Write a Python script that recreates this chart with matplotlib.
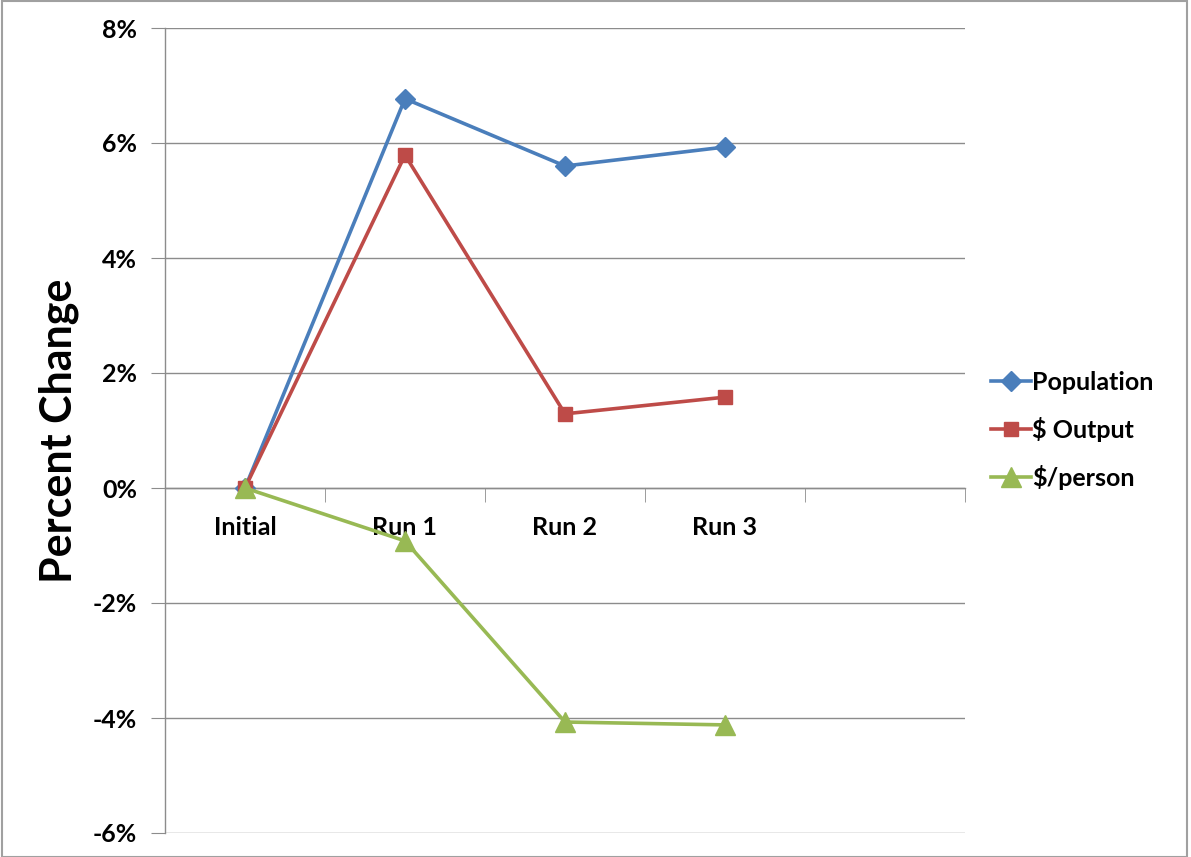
import matplotlib
matplotlib.use("Agg")
from matplotlib import pyplot as plt
from matplotlib.patches import Rectangle
from matplotlib.ticker import FixedLocator, PercentFormatter

plt.rcParams["font.family"] = ["Lato", "DejaVu Sans"]
plt.rcParams["font.weight"] = "bold"
plt.rcParams["axes.unicode_minus"] = False

# Percent change relative to the initial run
categories = ["Initial", "Run 1", "Run 2", "Run 3"]
population = [0.0, 6.77, 5.60, 5.93]
output = [0.0, 5.79, 1.29, 1.58]
per_person = [0.0, -0.92, -4.07, -4.12]

series = [
    ("Population", population, "#4A7EBB", "D", 10),
    ("$ Output", output, "#BE4B48", "s", 10),
    ("$/person", per_person, "#98B954", "^", 14),
]

grid_color = "#8C8C8C"

fig = plt.figure(figsize=(11.91, 8.57), dpi=100)
ax = fig.add_axes([165 / 1191, 24 / 857, 800 / 1191, 805 / 857])

x = list(range(len(categories)))
for name, values, color, marker, msize in series:
    ax.plot(x, values, color=color, lw=2.6, marker=marker, markersize=msize,
            markeredgecolor=color, label=name, zorder=3)

# five category slots, the last one left empty
ax.set_xlim(-0.5, 4.5)
ax.set_ylim(-6, 8)
ax.yaxis.set_major_locator(FixedLocator(range(-6, 9, 2)))
ax.yaxis.set_major_formatter(PercentFormatter(decimals=0))
ax.grid(axis="y", color=grid_color, lw=1.0)
ax.set_axisbelow(True)

ax.spines["top"].set_visible(False)
ax.spines["right"].set_visible(False)
ax.spines["bottom"].set_position(("data", 0))
for side in ("left", "bottom"):
    ax.spines[side].set_color(grid_color)
    ax.spines[side].set_linewidth(1.0)

ax.set_xticks(x)
ax.set_xticklabels(categories)
ax.set_xticks([i - 0.5 for i in range(6)], minor=True)
ax.tick_params(axis="x", which="major", length=0, pad=20, labelsize=18)
ax.tick_params(axis="x", which="minor", length=10, color=grid_color)
ax.tick_params(axis="y", length=10, color=grid_color, pad=10, labelsize=18)

ax.set_ylabel("Percent Change", fontsize=31, fontweight="bold", labelpad=10)

leg = ax.legend(loc="center left", bbox_to_anchor=(1.02, 0.5), frameon=False,
                fontsize=18, handlelength=1.6, handletextpad=0.05,
                labelspacing=0.92, borderaxespad=0)

# thin frame round the whole chart
fig.add_artist(Rectangle((0.002, 0.0), 0.995, 0.999, transform=fig.transFigure,
                         fill=False, edgecolor="#A0A0A0", lw=1.5))

fig.savefig("out.png", dpi=100)
